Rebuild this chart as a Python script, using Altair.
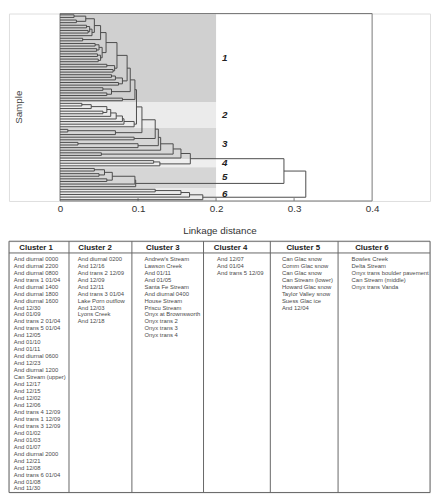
import altair as alt
import pandas as pd

# ---------------- data ----------------
CLUSTER_TITLES = ["Cluster 1", "Cluster 2", "Cluster 3", "Cluster 4", "Cluster 5", "Cluster 6"]
CLUSTER_IDS = ["1", "2", "3", "4", "5", "6"]

CLUSTER1 = ["And diurnal 0000", "And diurnal 2200", "And diurnal 0800", "And trans 1 01/04",
            "And diurnal 1400", "And diurnal 1800", "And diurnal 1600", "And 12/30", "And 01/09",
            "And trans 2 01/04", "And trans 5 01/04", "And 12/05", "And 01/10", "And 01/11",
            "And diurnal 0600", "And 12/23", "And diurnal 1200", "Can Stream (upper)", "And 12/17",
            "And 12/15", "And 12/02", "And 12/06", "And trans 4 12/09", "And trans 1 12/09",
            "And trans 3 12/09", "And 01/02", "And 01/03", "And 01/07", "And diurnal 2000",
            "And 12/21", "And 12/08", "And trans 6 01/04", "And 01/08", "And 11/30"]
CLUSTER2 = ["And diurnal 0200", "And 12/16", "And trans 2 12/09", "And 12/09", "And 12/11",
            "And trans 3 01/04", "Lake Porn outflow", "And 12/03", "Lyons Creek", "And 12/18"]
CLUSTER3 = ["Andrew's Stream", "Lawson Creek", "And 01/11", "And 01/05", "Santa Fe Stream",
            "And diurnal 0400", "House Stream", "Priscu Stream", "Onyx at Brownsworth",
            "Onyx trans 2", "Onyx trans 3", "Onyx trans 4"]
CLUSTER4 = ["And 12/07", "And 01/04", "And trans 5 12/09"]
CLUSTER5 = ["Can Glac snow", "Comm Glac snow", "Can Glac snow", "Can Stream (lower)",
            "Howard Glac snow", "Taylor Valley snow", "Suess Glac ice", "And 12/04"]
CLUSTER6 = ["Bowles Creek", "Delta Stream", "Onyx trans boulder pavement",
            "Can Stream (middle)", "Onyx trans Vanda"]
CLUSTERS = [CLUSTER1, CLUSTER2, CLUSTER3, CLUSTER4, CLUSTER5, CLUSTER6]

# within-cluster merge trees: [linkage distance, left, right], leaves = local index
C1_TREE = [0.096,
           [0.09,
            [0.086,
             [0.073,
              [0.059,
               [0.052,
                [0.044, [0.033, [0.018, 0, 1], [0.021, 2, 3]],
                 [0.041, [0.038, [0.034, 4, 5], [0.036, 6, 7]], 8]],
                [0.029, 9, 10]],
               [0.054, [0.05, [0.045, 11, 12], [0.047, 13, 14]],
                [0.052, [0.048, 15, 16], [0.049, 17, 18]]]],
              [0.07, [0.06, 19, 20], [0.068, 21, 22]]],
             [0.08, [0.071, [0.066, 23, 24], 25], [0.075, 26, 27]]],
            [0.066, [0.055, 28, 29], [0.06, 30, 31]]],
           [0.08, 32, 33]]
C2_TREE = [0.095, [0.082, [0.08, [0.072, [0.065, [0.06, [0.04, [0.028, 0, 1], 2],
                                                   [0.055, 3, 4]], 5], 6], 7], 8], 9]
# cluster 3 joins the cluster 1+2 branch step by step: (distance, sub-branch)
C3_CHAIN = [(0.105, [0.071, [0.01, 0, 1], 2]),
            (0.122, [0.095, 3, 4]),
            (0.126, [0.1, [0.023, 5, 6], 7]),
            (0.129, 8),
            (0.145, [0.053, 9, 10]),
            (0.155, 11)]
C4_TREE = [0.128, [0.12, 0, 1], 2]
C5_TREE = [0.097, [0.096, [0.067, [0.057, [0.044, 0, 1], [0.05, 2, 3]], [0.06, 4, 5]], 6], 7]
C6_TREE = [0.183, [0.166, [0.155, [0.122, 0, 1], 2], 3], 4]

MERGE_12 = 0.098       # clusters 1 + 2
MERGE_1234 = 0.167     # (1,2,3) + 4
MERGE_12345 = 0.287    # + 5
MERGE_ROOT = 0.315     # + 6
CUT = 0.2
TICKS = [0, 0.1, 0.2, 0.3, 0.4]
BAND_COLORS = ["#d0d0d0", "#ebebeb", "#d6d6d6", "#eeeeee", "#d6d6d6", "#ebebeb"]

# ---------------- build dendrogram ----------------
sizes = [len(c) for c in CLUSTERS]
offsets = [sum(sizes[:i]) for i in range(len(sizes))]
N = sum(sizes)


def shift(t, off):
    if isinstance(t, int):
        return t + off
    return [t[0], shift(t[1], off), shift(t[2], off)]


node = [MERGE_12, shift(C1_TREE, offsets[0]), shift(C2_TREE, offsets[1])]
for h, sub in C3_CHAIN:
    node = [h, node, shift(sub, offsets[2])]
node = [MERGE_1234, node, shift(C4_TREE, offsets[3])]
node = [MERGE_12345, node, shift(C5_TREE, offsets[4])]
ROOT = [MERGE_ROOT, node, shift(C6_TREE, offsets[5])]

segs = []


def walk(t):
    if isinstance(t, int):
        return 0.0, float(t)
    h, l, r = t
    hl, yl = walk(l)
    hr, yr = walk(r)
    segs.append(dict(x=h, x2=h, y=yl, y2=yr))
    segs.append(dict(x=hl, x2=h, y=yl, y2=yl))
    segs.append(dict(x=hr, x2=h, y=yr, y2=yr))
    return h, (yl + yr) / 2


walk(ROOT)
seg_df = pd.DataFrame(segs)

band_df = pd.DataFrame({
    "cid": CLUSTER_IDS,
    "x0": [0.0] * 6,
    "x1": [CUT] * 6,
    "y0": [o - 0.5 for o in offsets],
    "y1": [o + s - 0.5 for o, s in zip(offsets, sizes)],
    "ym": [o + (s - 1) / 2 for o, s in zip(offsets, sizes)],
})
frame_df = pd.DataFrame({"x0": [TICKS[0]], "x1": [TICKS[-1]], "y0": [-0.5], "y1": [N - 0.5]})
tick_df = pd.DataFrame({"t": TICKS[1:-1], "y0": [N - 0.5] * 3, "y1": [N - 1.6] * 3})

# ---------------- layout ----------------
W = 429
DH = 191
TH = 256
PLOT_L, PLOT_R = 52, 370
ppu = (PLOT_R - PLOT_L) / (TICKS[-1] - TICKS[0])
xs = alt.Scale(domain=[-PLOT_L / ppu, TICKS[-1] + (W - PLOT_R) / ppu], nice=False, zero=False)
ys = alt.Scale(domain=[-0.5, N - 0.5], nice=False, zero=False, reverse=True)
xaxis = alt.Axis(values=TICKS, format="~g", title="Linkage distance", grid=False, domain=False,
                 ticks=False, labelFontSize=10, titleFontSize=10, labelPadding=3, titlePadding=12,
                 labelColor="#333", titleColor="#333", titleFontWeight="normal",
                 labelFont="Liberation Sans", titleFont="Liberation Sans")

bands = alt.Chart(band_df).mark_rect(stroke=None).encode(
    x=alt.X("x0:Q", scale=xs, axis=xaxis), x2="x1:Q",
    y=alt.Y("y0:Q", scale=ys, axis=None), y2="y1:Q",
    color=alt.Color("cid:N", scale=alt.Scale(domain=CLUSTER_IDS, range=BAND_COLORS), legend=None),
)
frame = alt.Chart(frame_df).mark_rect(fill=None, stroke="#777", strokeWidth=1).encode(
    x=alt.X("x0:Q", scale=xs, axis=xaxis), x2="x1:Q",
    y=alt.Y("y0:Q", scale=ys, axis=None), y2="y1:Q",
)
ticks = alt.Chart(tick_df).mark_rule(color="#777", strokeWidth=1).encode(
    x=alt.X("t:Q", scale=xs, axis=xaxis),
    y=alt.Y("y0:Q", scale=ys, axis=None), y2="y1:Q",
)
lines = alt.Chart(seg_df).mark_rule(color="#4a4a4a", strokeWidth=1).encode(
    x=alt.X("x:Q", scale=xs, axis=xaxis), x2="x2:Q",
    y=alt.Y("y:Q", scale=ys, axis=None), y2="y2:Q",
)
labels = alt.Chart(band_df).mark_text(align="left", dx=6, fontSize=10, fontWeight="bold",
                                      fontStyle="italic", color="#222",
                                      font="Liberation Sans").encode(
    x=alt.X("x1:Q", scale=xs, axis=xaxis),
    y=alt.Y("ym:Q", scale=ys, axis=None),
    text="cid:N",
)
sample = alt.Chart(pd.DataFrame({"t": ["Sample"]})).mark_text(
    angle=270, fontSize=10, color="#444", font="Liberation Sans").encode(
    x=alt.value(10), y=alt.value(DH / 2), text="t:N")

dendro = alt.layer(bands, frame, ticks, lines, labels, sample).properties(width=W, height=DH)

# ---------------- table ----------------
T_W, T_H = 435, 257
COL_EDGES = [0, 62, 127, 201, 270, 340, 435]
HEAD_X = [28, 89, 159, 229, 304, 375]
TEXT_X = [5, 71, 140, 215, 282, 354]
HEAD_Y, HEAD_LINE, ROW0, ROW_STEP = 6.5, 12, 18, 7.12

tx = alt.Scale(domain=[0, T_W], nice=False, zero=False)
ty = alt.Scale(domain=[0, T_H], nice=False, zero=False, reverse=True)

rows = []
for k, names in enumerate(CLUSTERS):
    for i, nm in enumerate(names):
        rows.append(dict(x=TEXT_X[k], y=ROW0 + i * ROW_STEP, t=nm))
entry_df = pd.DataFrame(rows)
head_df = pd.DataFrame({"x": HEAD_X, "y": [HEAD_Y] * 6, "t": CLUSTER_TITLES})
box_df = pd.DataFrame({"x0": [0], "x1": [T_W], "y0": [0], "y1": [T_H]})
hline_df = pd.DataFrame({"x0": [0], "x1": [T_W], "y": [HEAD_LINE]})
vline_df = pd.DataFrame({"x": COL_EDGES[1:-1], "y0": [0] * 5, "y1": [T_H] * 5})

tbox = alt.Chart(box_df).mark_rect(fill=None, stroke="#666", strokeWidth=1).encode(
    x=alt.X("x0:Q", scale=tx, axis=None), x2="x1:Q",
    y=alt.Y("y0:Q", scale=ty, axis=None), y2="y1:Q")
thline = alt.Chart(hline_df).mark_rule(color="#666", strokeWidth=1).encode(
    x=alt.X("x0:Q", scale=tx, axis=None), x2="x1:Q",
    y=alt.Y("y:Q", scale=ty, axis=None))
tvline = alt.Chart(vline_df).mark_rule(color="#666", strokeWidth=1).encode(
    x=alt.X("x:Q", scale=tx, axis=None),
    y=alt.Y("y0:Q", scale=ty, axis=None), y2="y1:Q")
thead = alt.Chart(head_df).mark_text(fontSize=8, fontWeight="bold", color="#222",
                                     font="Liberation Sans").encode(
    x=alt.X("x:Q", scale=tx, axis=None), y=alt.Y("y:Q", scale=ty, axis=None), text="t:N")
tentry = alt.Chart(entry_df).mark_text(fontSize=6, align="left", color="#4a4a4a",
                                       font="Liberation Sans").encode(
    x=alt.X("x:Q", scale=tx, axis=None), y=alt.Y("y:Q", scale=ty, axis=None), text="t:N")

table = alt.layer(tbox, thline, tvline, thead, tentry).properties(width=W, height=TH)

chart = alt.vconcat(dendro, table, spacing=4).properties(padding=0).configure_view(
    stroke=None).configure(font="Liberation Sans")

chart.save("out.html", embed_options={"renderer": "svg", "actions": False})
